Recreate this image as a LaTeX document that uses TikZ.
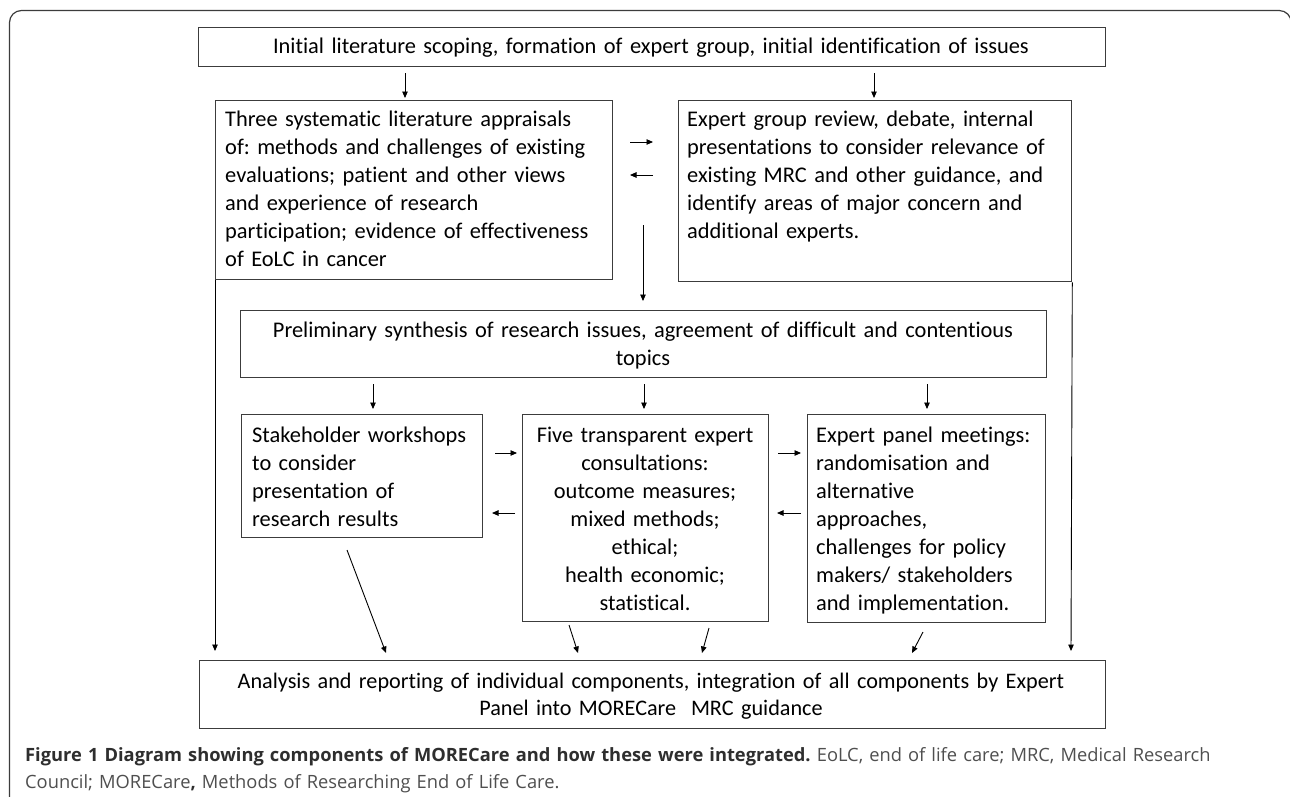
\documentclass[tikz,border=0pt]{standalone}
\usepackage{fontspec}
\setmainfont[Ligatures=NoCommon]{Carlito}
\newfontfamily\capfont{Open Sans}
\usetikzlibrary{arrows.meta}
\definecolor{boxline}{HTML}{3C3C3C}
\definecolor{capdark}{HTML}{2E2E2E}
\definecolor{capgray}{HTML}{4F4F4F}
\newcommand{\myarrow}[3]{\coordinate (#1s) at #2; \coordinate (#1e) at #3; \draw[arr] (#1s) -- (#1e);}
\frenchspacing
\begin{document}
\begin{tikzpicture}[x=1pt,y=-1pt,
  box/.style={draw=boxline, line width=1.3pt, inner sep=0pt, anchor=north west},
  arr/.style={draw=black, line width=0.9pt, -{Triangle[length=6.5pt,width=5.5pt]}},
  txt/.style={inner sep=0pt, font=\fontsize{22.4}{28}\selectfont, text=black},
  ltxt/.style={txt, anchor=base west, align=left, text width=#1},
  ctxt/.style={txt, anchor=base, align=center, text width=#1}]
\useasboundingbox (0,0) rectangle (1290,796);
\fill[white] (0,0) rectangle (1290,796);
% outer frame
\draw[boxline, line width=1.2pt, rounded corners=12pt] (9.5,800) -- (9.5,10.5) -- (1291.2,10.5) -- (1291.2,60);
% boxes
\node[box, minimum width=907pt, minimum height=39pt] (b1) at (198,27) {};
\node[box, minimum width=397pt, minimum height=179pt] (b2) at (215,100) {};
\node[box, minimum width=393pt, minimum height=181pt] (b3) at (678,100) {};
\node[box, minimum width=806pt, minimum height=67pt] (b4) at (240,310) {};
\node[box, minimum width=241pt, minimum height=123pt] (b5) at (241,414) {};
\node[box, minimum width=246pt, minimum height=207pt] (b6) at (522,414) {};
\node[box, minimum width=238pt, minimum height=208pt] (b7) at (807,414) {};
\node[box, minimum width=906pt, minimum height=68pt] (b8) at (199,660) {};
% texts
\node[ctxt=900pt] (t1) at (651,53) {Initial literature scoping, formation of expert group, initial identification of issues};
\node[ltxt=390pt] (t2) at (225,126) {Three systematic literature appraisals\\ of: methods and challenges of existing\\ evaluations; patient and other views\\ and experience of research\\ participation; evidence of effectiveness\\ of EoLC in cancer};
\node[ltxt=385pt] (t3) at (687,126) {Expert group review, debate, internal\\ presentations to consider relevance of\\ existing MRC and other guidance, and\\ identify areas of major concern and\\ additional experts.};
\node[ctxt=800pt] (t4) at (643,337) {Preliminary synthesis of research issues, agreement of difficult and contentious\\ topics};
\node[ltxt=235pt] (t5) at (252,442) {Stakeholder workshops\\ to consider\\ presentation of\\ research results};
\node[ctxt=240pt] (t6) at (645,442) {Five transparent expert\\ consultations:\\ outcome measures;\\ mixed methods;\\ ethical;\\ health economic;\\ statistical.};
\node[ltxt=232pt] (t7) at (816,442) {Expert panel meetings:\\ randomisation and\\ alternative\\ approaches,\\ challenges for policy\\ makers/ stakeholders\\ and implementation.};
\node[ctxt=900pt, font=\fontsize{22.2}{27}\selectfont] (t8) at (651,688) {Analysis and reporting of individual components, integration of all components by Expert\\ Panel into MORECare~ MRC guidance};
% caption
\node[inner sep=0pt, anchor=base west, align=left, text width=1260pt, font=\capfont\fontsize{18.3}{27}\selectfont, text=capgray] (cap) at (25,761) {{\bfseries\color{capdark}Figure 1 Diagram showing components of MORECare and how these were integrated.} EoLC, end of life care; MRC, Medical Research\\ Council; MORECare{\bfseries\color{capdark},} Methods of Researching End of Life Care.};
% arrows
\myarrow{v1}{(405,73)}{(405,98)}
\myarrow{v2}{(874,73)}{(874,98)}
\myarrow{h1}{(630,142)}{(653,142)}
\myarrow{h2}{(653,175)}{(630,175)}
\myarrow{v3}{(643,225)}{(643,301)}
\coordinate (la) at (215,651);
\coordinate (ra) at (1071,651);
\draw[arr] (b2.south west) -- (la);
\draw[arr] (b3.south east) -- (ra);
\myarrow{v4}{(373,384)}{(373,409)}
\myarrow{v5}{(644,384)}{(644,409)}
\myarrow{v6}{(927,384)}{(927,409)}
\myarrow{h3}{(495,453)}{(517,453)}
\myarrow{h4}{(515,513)}{(492,513)}
\myarrow{h5}{(778,453)}{(801,453)}
\myarrow{h6}{(801,513)}{(777,513)}
\myarrow{d1}{(347,550)}{(386,653)}
\myarrow{d2}{(569,625)}{(578,653)}
\myarrow{d3}{(709,628)}{(702,653)}
\myarrow{d4}{(923,632)}{(912,653)}
\end{tikzpicture}
\end{document}
